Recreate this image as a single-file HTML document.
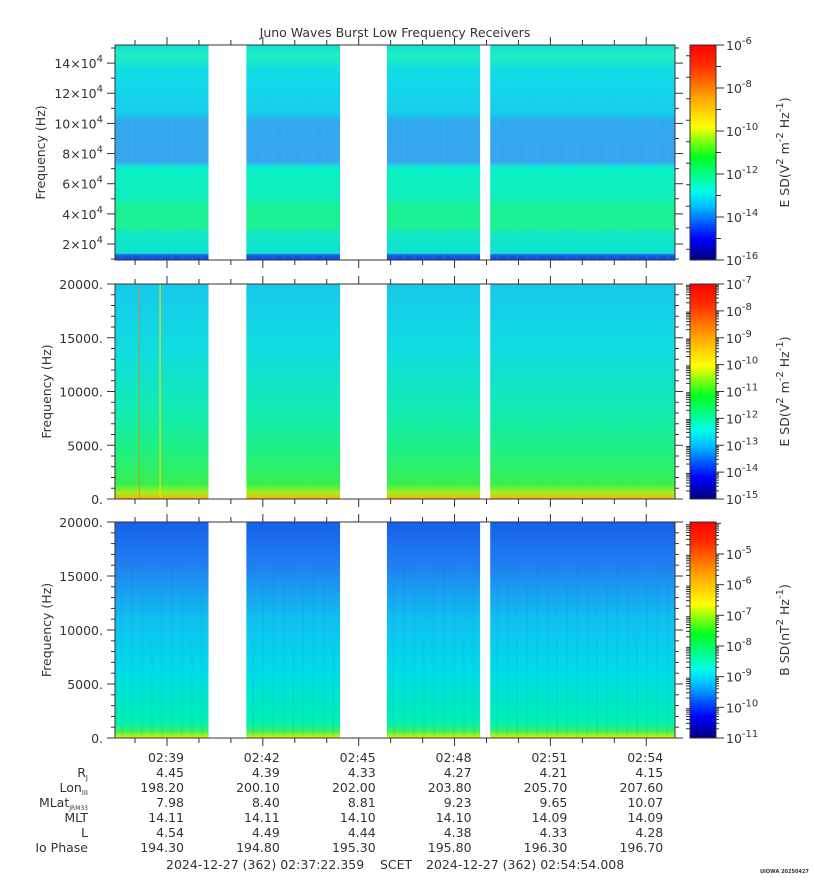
<!DOCTYPE html>
<html><head><meta charset="utf-8">
<style>
html,body{margin:0;padding:0;background:#fff;}
svg{display:block;font-family:"DejaVu Sans","Liberation Sans",sans-serif;}
text{fill:#333;}
</style></head>
<body>
<svg id="chart" width="815" height="880" viewBox="0 0 815 880" xmlns="http://www.w3.org/2000/svg">
<defs>
<linearGradient id="jet" x1="0" y1="1" x2="0" y2="0">
<stop offset="0" stop-color="#000080"/><stop offset="0.1" stop-color="#0000ff"/>
<stop offset="0.25" stop-color="#00c0ff"/><stop offset="0.32" stop-color="#00ffe8"/>
<stop offset="0.48" stop-color="#00ff20"/><stop offset="0.62" stop-color="#ffff00"/>
<stop offset="0.76" stop-color="#ffa000"/><stop offset="0.9" stop-color="#ff3000"/>
<stop offset="1" stop-color="#ff0000"/></linearGradient>
<linearGradient id="g1" x1="0" y1="0" x2="0" y2="1">
<stop offset="0" stop-color="#10e0d8"/><stop offset="0.05" stop-color="#20eec0"/><stop offset="0.12" stop-color="#10dce8"/>
<stop offset="0.32" stop-color="#18ccee"/><stop offset="0.35" stop-color="#30a8f0"/><stop offset="0.54" stop-color="#3aa4f0"/>
<stop offset="0.56" stop-color="#20d0ea"/><stop offset="0.57" stop-color="#08f0c8"/><stop offset="0.72" stop-color="#10eebc"/>
<stop offset="0.74" stop-color="#18f098"/><stop offset="0.85" stop-color="#20f090"/><stop offset="0.87" stop-color="#10e8c8"/>
<stop offset="0.97" stop-color="#10e0d0"/><stop offset="0.975" stop-color="#2060f0"/><stop offset="1" stop-color="#1040e0"/></linearGradient>
<linearGradient id="g2" x1="0" y1="0" x2="0" y2="1">
<stop offset="0" stop-color="#18c8ea"/><stop offset="0.3" stop-color="#10dce0"/><stop offset="0.6" stop-color="#10ecb0"/>
<stop offset="0.78" stop-color="#20f080"/><stop offset="0.93" stop-color="#38f050"/><stop offset="0.97" stop-color="#a0f020"/>
<stop offset="1" stop-color="#ffb000"/></linearGradient>
<linearGradient id="g3" x1="0" y1="0" x2="0" y2="1">
<stop offset="0" stop-color="#1860ea"/><stop offset="0.2" stop-color="#2080f0"/><stop offset="0.45" stop-color="#10c0f0"/>
<stop offset="0.7" stop-color="#00dce6"/><stop offset="0.93" stop-color="#00f0b0"/><stop offset="0.97" stop-color="#40f060"/>
<stop offset="1" stop-color="#e0f000"/></linearGradient>
</defs>
<text x="395" y="37" font-size="12.5" text-anchor="middle">Juno Waves Burst Low Frequency Receivers</text>
<g id="root"></g>
</svg>
<script>
const NS="http://www.w3.org/2000/svg";
const root=document.getElementById('root');
// ---- data ----
const startSec=2*3600+37*60+22.359;
const endSec=2*3600+54*60+54.008;
const dataSegments=[[2*3600+37*60+22.4,2*3600+40*60+18],[2*3600+41*60+29,2*3600+44*60+25],[2*3600+45*60+53,2*3600+48*60+48],[2*3600+49*60+7,2*3600+54*60+54]];
const timeLabels=["02:39","02:42","02:45","02:48","02:51","02:54"];
const rowLabels=["R","Lon","MLat","MLT","L","Io Phase"];
const rowSubs=["J","III","JRM33","","",""];
const rowRj=["4.45","4.39","4.33","4.27","4.21","4.15"];
const rowLon=["198.20","200.10","202.00","203.80","205.70","207.60"];
const rowMLat=["7.98","8.40","8.81","9.23","9.65","10.07"];
const rowMLT=["14.11","14.11","14.10","14.10","14.09","14.09"];
const rowL=["4.54","4.49","4.44","4.38","4.33","4.28"];
const rowIo=["194.30","194.80","195.30","195.80","196.30","196.70"];
const p1Ticks=[2,4,6,8,10,12,14];
const p23Ticks=[0,5000,10000,15000,20000];
const burstLines=[2*3600+38*60+47,2*3600+38*60+8];
// ---- layout ----
const X0=115,X1=675;
const xs=t=>X0+(t-startSec)/(endSec-startSec)*(X1-X0);
const panels=[
 {top:45,bot:260,grad:'g1',fmin:0.94e4,fmax:15.2e4,cb:[-16,-6],cbStep:2,logMinor:false},
 {top:284,bot:499,grad:'g2',fmin:0,fmax:20000,cb:[-15,-7],cbStep:1,logMinor:true},
 {top:522,bot:738,grad:'g3',fmin:0,fmax:20000,cb:[-11,-4],cbStep:1,logMinor:true,cbSkipTop:true}];
function el(tag,attrs,parent,txt){const e=document.createElementNS(NS,tag);for(const k in attrs)e.setAttribute(k,attrs[k]);if(txt!==undefined)e.textContent=txt;(parent||root).appendChild(e);return e;}
function line(x1,y1,x2,y2,g){return el('line',{x1,y1,x2,y2,stroke:'#333','stroke-width':1},g);}
panels.forEach((p,pi)=>{
 const g=el('g',{});
 
 
 const ys=f=>p.bot-(f-p.fmin)/(p.fmax-p.fmin)*(p.bot-p.top);
 dataSegments.forEach((s,si)=>{
  const r=el('rect',{x:xs(s[0]),y:p.top,width:xs(s[1])-xs(s[0]),height:p.bot-p.top,fill:'url(#'+p.grad+')'},g);
  
  
  for(let x=xs(s[0])+6;x<xs(s[1])-2;x+=10){
   el('rect',{x:x,y:p.top+(pi==1?(p.bot-p.top)*0.45:0),width:2,height:(p.bot-p.top)*(pi==1?0.5:1),fill:pi==2?'#1060e0':'#20f090',opacity:pi==2?0.06:0.12},g);
  }
 });
 if(pi==1){burstLines.forEach((t,i)=>{const l=el('line',{x1:xs(t),x2:xs(t),y1:p.top,y2:p.bot,stroke:i==0?'#f0e000':'#f08000','stroke-width':1.2,opacity:i==0?1:0.6},g);});}
 el('rect',{x:X0,y:p.top,width:X1-X0,height:p.bot-p.top,fill:'none',stroke:'#333','stroke-width':1},g);
 for(let m=38;m<=54;m++){const t=2*3600+m*60;const x=xs(t);const maj=(m%3==0);const L=maj?8:5;
  line(x,p.top,x,p.top-L,g);line(x,p.bot,x,p.bot+L,g);}
 if(pi==0){
  for(let k=1;k<=15;k++){const y=ys(k*1e4);if(y<p.top-0.5||y>p.bot+0.5)continue;const maj=k%2==0;const L=maj?8:4;line(X0,y,X0-L,y,g);line(X1,y,X1+L,y,g);}
  p1Ticks.forEach(v=>{const t=el('text',{x:103,y:ys(v*1e4)+5,'font-size':12.5,'text-anchor':'end'},g);
   
   t.appendChild(document.createTextNode(v+'×10'));el('tspan',{dy:-6,'font-size':10},t,'4');});
 } else {
  for(let f=0;f<=20000;f+=1000){const y=ys(f);const maj=f%5000==0;const L=maj?8:4;line(X0,y,X0-L,y,g);line(X1,y,X1+L,y,g);}
  p23Ticks.forEach(v=>{const t=el('text',{x:103,y:ys(v)+5,'font-size':12.5,'text-anchor':'end'},g,v+'.');});
 }
 const yl=el('text',{x:0,y:0,'font-size':12.5,'text-anchor':'middle',transform:`translate(${pi==0?45:51},${(p.top+p.bot)/2}) rotate(-90)`},g,'Frequency (Hz)');
 
 const cb=el('g',{},g);
 const CX0=690,CX1=716;
 el('rect',{x:CX0,y:p.top,width:CX1-CX0,height:p.bot-p.top,fill:'url(#jet)',stroke:'#333','stroke-width':1},cb);
 const [d0,d1]=p.cb;const dec=(pi==2)?(738-554)/6:(p.bot-p.top)/(d1-d0);
 const cy=d=>p.bot-(d-d0)*dec;
 for(let d=d0;d<=d1;d++){const y=cy(d);if(y<p.top-0.5)continue;
  const lab=(d-d0)%p.cbStep==0 && !(p.cbSkipTop&&d==d1);
  line(CX1,y,CX1+(lab?8:5),y,cb);
  if(lab){const t=el('text',{x:726,y:y+5,'font-size':12.5},cb,'10');el('tspan',{dy:-6,'font-size':10},t,String(d));}
  if(p.logMinor){for(let k=2;k<=9;k++){const yy=y-Math.log10(k)*dec;if(yy<p.top)break;line(CX0-4,yy,CX0,yy,cb);line(CX1,yy,CX1+3,yy,cb);}}
  else if(d<d1){const yy=y-dec/2;line(CX0,yy,CX0-4,yy,cb);}
 }
 const unit=pi==2?['B SD(nT','2',' Hz','-1',')']:['E SD(V','2',' m','-2',' Hz','-1',')'];
 const ct=el('text',{x:0,y:0,'font-size':12.5,'text-anchor':'middle',transform:`translate(789,${(p.top+p.bot)/2}) rotate(-90)`},cb);
 
 unit.forEach((u,i)=>{if(i%2==1)el('tspan',{dy:-6,'font-size':10},ct,u);else el('tspan',{dy:i==0?0:6},ct,u);});
});
const tbl=el('g',{});
const rowsVals=[rowRj,rowLon,rowMLat,rowMLT,rowL,rowIo];
timeLabels.forEach((lab,i)=>{const [h,m]=lab.split(':').map(Number);const x=xs(h*3600+m*60)+17;
 const t=el('text',{x,y:762,'font-size':12.5,'text-anchor':'end'},tbl,lab);
 rowsVals.forEach((r,ri)=>{el('text',{x,y:777+ri*15,'font-size':12.5,'text-anchor':'end'},tbl,r[i]);});
});
rowLabels.forEach((lab,ri)=>{const sub=rowSubs[ri];const t=el('text',{x:88,y:777+ri*15,'font-size':12.5,'text-anchor':'end'},tbl);
 el('tspan',{},t,lab);if(sub)el('tspan',{dy:3,'font-size':ri==2?6:7},t,sub);});
const f1=el('text',{x:166,y:869,'font-size':12.5},tbl,'2024-12-27 (362) 02:37:22.359');

const f2=el('text',{x:380,y:869,'font-size':12.5},tbl,'SCET');

const f3=el('text',{x:426,y:869,'font-size':12.5},tbl,'2024-12-27 (362) 02:54:54.008');

const uw=el('text',{x:760,y:873,'font-size':5,'font-weight':'bold'},tbl,'UIOWA 20250427');

</script>
</body></html>
